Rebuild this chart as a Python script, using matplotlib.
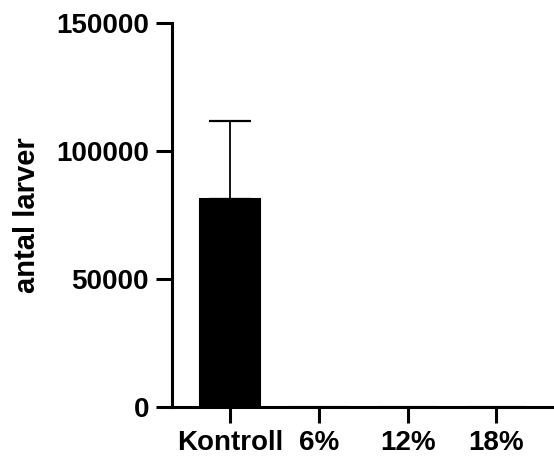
import numpy as np
import matplotlib.pyplot as plt

# data
groups = ['Kontroll', '6%', '12%', '18%']
mean_larver = [81300, 0, 0, 0]
sd_larver = [30500, 0, 0, 0]

plt.rcParams['font.family'] = ['Liberation Sans', 'DejaVu Sans']
plt.rcParams['font.weight'] = 'bold'

fig = plt.figure(figsize=(5.54, 4.59), dpi=100)
ax = fig.add_axes([0.3105, 0.1133, 0.688, 0.837])

x = np.arange(len(groups))
ax.bar(x, mean_larver, width=0.67, color='black', edgecolor='black', linewidth=1.5)
for xi, m, s in zip(x, mean_larver, sd_larver):
    if s > 0:
        ax.errorbar(xi, m, yerr=[[0], [s]], fmt='none', ecolor='black',
                    elinewidth=1.3, capsize=15, capthick=1.6)

ax.set_xlim(-0.655, 3.64)
ax.set_ylim(0, 150000)
ax.set_yticks([0, 50000, 100000, 150000])
ax.set_yticklabels(['0', '50000', '100000', '150000'])
ax.set_xticks(x)
ax.set_xticklabels(groups)

for side in ['top', 'right']:
    ax.spines[side].set_visible(False)
for side in ['left', 'bottom']:
    ax.spines[side].set_linewidth(2.2)

ax.tick_params(axis='both', width=2.2, length=11.5, labelsize=20, pad=5)
ax.set_ylabel('antal larver', fontsize=21, fontweight='bold', labelpad=11)

fig.savefig('out.png', dpi=100)
